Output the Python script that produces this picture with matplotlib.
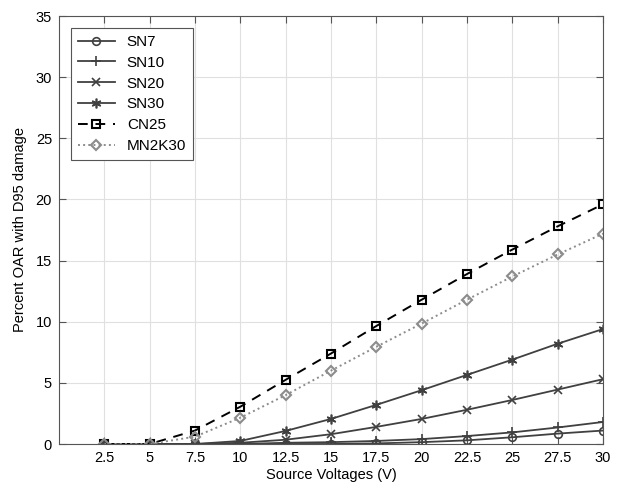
import numpy as np
import matplotlib
matplotlib.use("Agg")
import matplotlib.pyplot as plt

plt.rcParams['font.family'] = ['Liberation Sans', 'DejaVu Sans']

volts = [2.5, 5, 7.5, 10, 12.5, 15, 17.5, 20, 22.5, 25, 27.5, 30]
xtick_labels = ['2.5', '5', '7.5', '10', '12.5', '15', '17.5', '20', '22.5', '25', '27.5', '30']

sn7 = [0, 0, 0, 0, 0, 0, 0.05, 0.15, 0.3, 0.55, 0.85, 1.1]
sn10 = [0, 0, 0, 0, 0.1, 0.15, 0.25, 0.4, 0.65, 0.95, 1.35, 1.8]
sn20 = [0, 0, 0, 0.1, 0.35, 0.8, 1.4, 2.05, 2.8, 3.6, 4.45, 5.3]
sn30 = [0, 0, 0, 0.25, 1.07, 2.05, 3.2, 4.4, 5.65, 6.9, 8.2, 9.4]
cn25 = [0, 0, 1.1, 3.05, 5.25, 7.4, 9.65, 11.8, 13.9, 15.9, 17.8, 19.6]
mn2k30 = [0, 0, 0.6, 2.15, 4.0, 6.0, 7.95, 9.85, 11.8, 13.7, 15.5, 17.2]

fig = plt.figure(figsize=(6.21, 4.93), dpi=100)
ax = fig.add_axes([59/621, 49/493, 544/621, 428/493])

dark = '#404040'
ax.plot(volts, sn7, '-o', color=dark, lw=1.3, ms=5.5, mfc='none', mew=1.2, label='SN7')
ax.plot(volts, sn10, '-+', color=dark, lw=1.3, ms=7, mew=1.2, label='SN10')
ax.plot(volts, sn20, '-x', color=dark, lw=1.3, ms=5.5, mew=1.2, label='SN20')
ax.plot(volts, sn30, '-', marker=(6, 2, 0), color=dark, lw=1.3, ms=7, mew=1.2, label='SN30')
ax.plot(volts, cn25, '--s', color='black', lw=1.4, ms=5.5, mfc='none', mew=1.5,
        dashes=(5, 4), label='CN25')
ax.plot(volts, mn2k30, ':D', color='#8c8c8c', lw=1.4, ms=5, mfc='none', mew=1.5,
        label='MN2K30')

ax.set_xlim(0, 30)
ax.set_ylim(0, 35)
ax.set_xticks(volts)
ax.set_xticklabels(xtick_labels)
ax.set_yticks(np.arange(0, 36, 5))
ax.grid(True, color='#e0e0e0', lw=0.8)
ax.set_axisbelow(True)
ax.tick_params(direction='in', top=True, right=True, labelsize=10.5,
               color='#555555', length=5, pad=5)
for s in ax.spines.values():
    s.set_color('#555555')

ax.set_xlabel('Source Voltages (V)', fontsize=10.5, labelpad=2)
ax.set_ylabel('Percent OAR with D95 damage', fontsize=10.5, labelpad=6)

leg = ax.legend(loc='upper left', bbox_to_anchor=(12/544, 1 - 12/428),
                fontsize=11, fancybox=False, framealpha=1,
                edgecolor='#555555', handlelength=2.4, handletextpad=0.8,
                borderaxespad=0, labelspacing=0.45, borderpad=0.45)
leg.get_frame().set_linewidth(0.8)

fig.savefig('out.png', dpi=100)
